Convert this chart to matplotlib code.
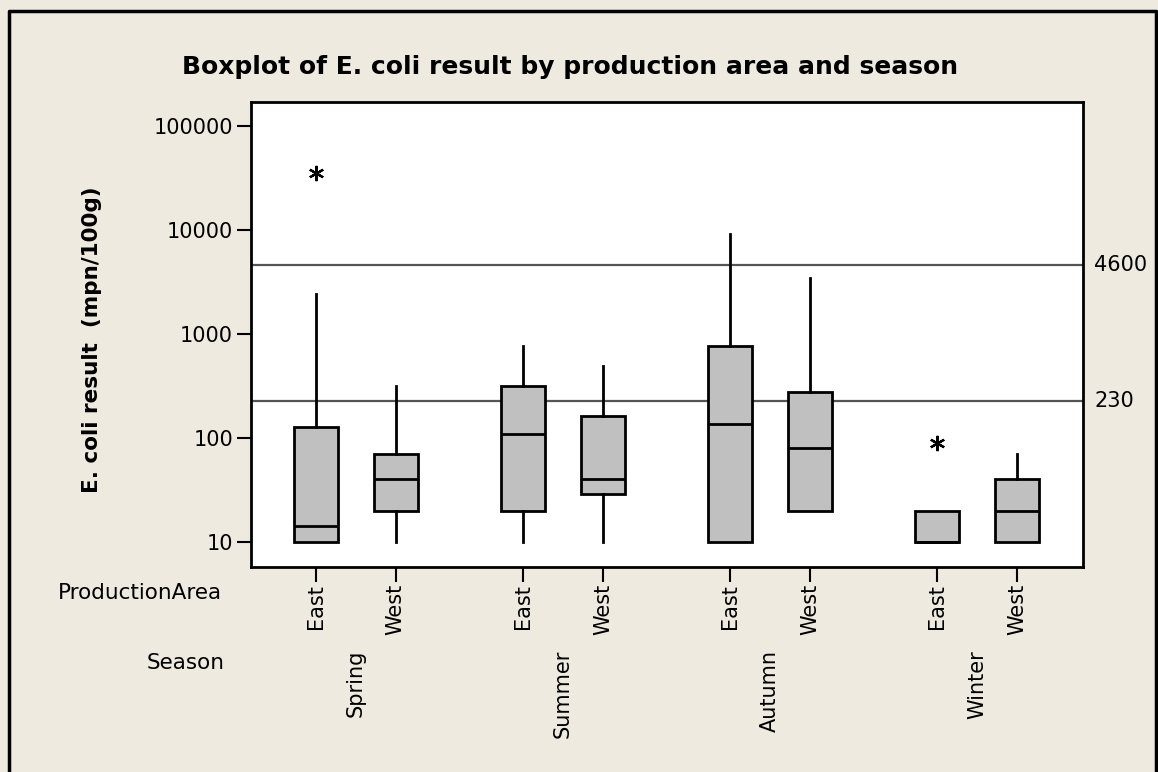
import matplotlib
matplotlib.use("Agg")
import matplotlib.pyplot as plt
from matplotlib.lines import Line2D
import numpy as np

# ---- data ----
seasons = ["Spring", "Summer", "Autumn", "Winter"]
areas = ["East", "West"]
q1 = [10, 20, 20, 29, 10, 20, 10, 10]
med = [14.4, 41, 109, 41, 137, 80, 10, 20]
q3 = [129, 70, 318, 163, 767, 275, 20, 41]
whislo = [10, 10, 10, 10, 10, 20, 10, 10]
whishi = [2440, 318, 773, 496, 9200, 3475, 20, 70]
fliers = [[35300], [], [], [], [], [], [90], []]
ref_values = [4600, 230]
ref_labels = ["4600", "230"]
yticks = [10, 100, 1000, 10000, 100000]

BG = "#EEEAE0"
fig = plt.figure(figsize=(11.58, 7.72), dpi=100, facecolor=BG)
ax = fig.add_axes([251 / 1158, 1 - 567 / 772, (1083 - 251) / 1158, (567 - 102) / 772])
ax.set_facecolor("white")

group_gap = 2.59
positions = []
for g in range(len(seasons)):
    for a in range(len(areas)):
        positions.append(g * group_gap + a)

stats = []
for i in range(len(q1)):
    stats.append(dict(q1=q1[i], med=med[i], q3=q3[i], whislo=whislo[i],
                      whishi=whishi[i], fliers=fliers[i]))

# reference lines
for v in ref_values:
    ax.axhline(v, color="#555555", lw=1.6, zorder=1)

ax.bxp(stats, positions=positions, widths=0.55, patch_artist=True,
       showcaps=False,
       boxprops=dict(facecolor="#C0C0C0", edgecolor="black", linewidth=2),
       medianprops=dict(color="black", linewidth=2),
       whiskerprops=dict(color="black", linewidth=2),
       flierprops=dict(marker=(6, 2, 0), markersize=11, markeredgecolor="black",
                       markeredgewidth=1.6, linestyle="none"),
       zorder=2)

ax.set_yscale("log")
ax.set_ylim(5.79, 170000)
ax.set_xlim(-0.81, 3 * group_gap + 1 + 0.82)
ax.set_yticks(yticks)
ax.set_yticklabels([str(t) for t in yticks])
ax.yaxis.set_minor_locator(matplotlib.ticker.NullLocator())
ax.tick_params(axis="y", which="major", direction="out", length=10, width=1.5,
               labelsize=15, pad=3, colors="black")

ax.set_xticks(positions)
ax.set_xticklabels(areas * len(seasons), rotation=90, va="top", ha="center")
ax.tick_params(axis="x", direction="out", length=11, width=1.5, labelsize=15, pad=1)

for s in ax.spines.values():
    s.set_linewidth(2)
    s.set_color("black")

# reference line labels on the right
for v, lab in zip(ref_values, ref_labels):
    ax.annotate(lab, xy=(1, v), xycoords=("axes fraction", "data"),
                xytext=(8, 0), textcoords="offset points",
                ha="left", va="center", fontsize=15)

# season labels
for g, s in enumerate(seasons):
    xc = g * group_gap + 0.5
    ax.annotate(s, xy=(xc, 0), xycoords=("data", "axes fraction"),
                xytext=(0, -83), textcoords="offset pixels",
                rotation=90, ha="center", va="top", fontsize=15)

fig.text(222 / 1158, 1 - 593 / 772, "ProductionArea", ha="right", va="center", fontsize=15.5)
fig.text(225 / 1158, 1 - 663 / 772, "Season", ha="right", va="center", fontsize=15.5)

fig.text(570 / 1158, 1 - 67 / 772, "Boxplot of E. coli result by production area and season",
         ha="center", va="center", fontsize=18, fontweight="bold")
fig.text(92 / 1158, 1 - 340 / 772, "E. coli result  (mpn/100g)", rotation=90,
         ha="center", va="center", fontsize=15.5, fontweight="bold")

# figure frame (left, top, right)
fx = [8.5 / 1158, 8.5 / 1158, 1156 / 1158, 1156 / 1158]
fy = [0, 1 - 11 / 772, 1 - 11 / 772, 0]
fig.add_artist(Line2D(fx, fy, transform=fig.transFigure, color="black", lw=2.5))

fig.savefig("out.png", dpi=100, facecolor=BG)
